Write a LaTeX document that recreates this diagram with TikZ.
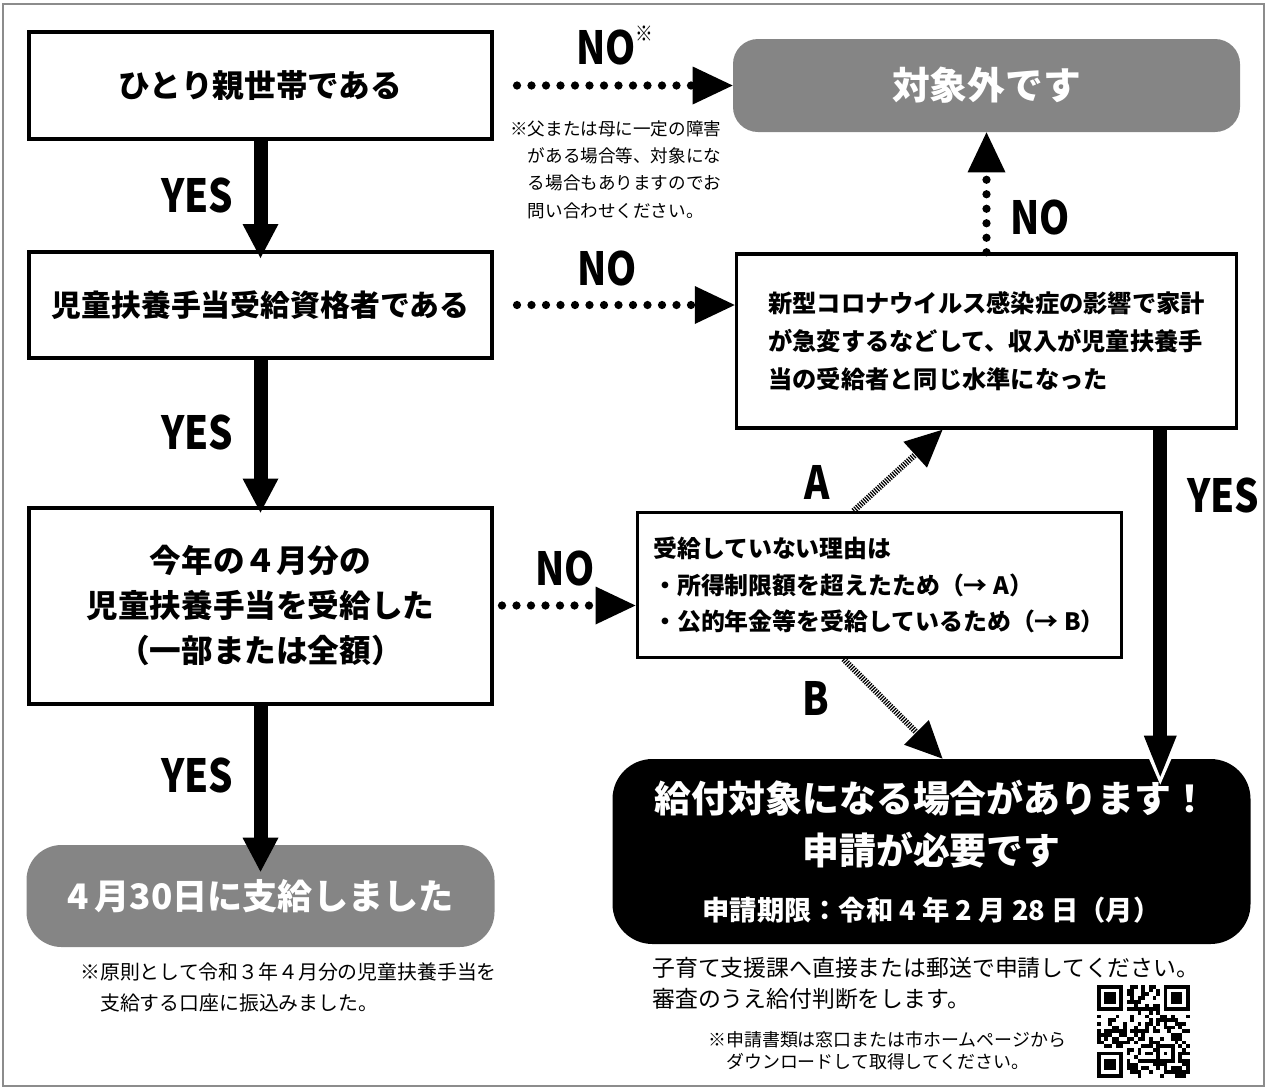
\documentclass[tikz,border=0pt]{standalone}
\usepackage{fontspec}
\setmainfont{Noto Sans CJK JP}
\newfontfamily\ynfont{Noto Sans CJK JP}[FakeStretch=0.84]
\usetikzlibrary{shapes,arrows.meta}
\definecolor{boxgray}{RGB}{133,133,133}

\begin{document}
\begin{tikzpicture}[auto,
  qbox/.style={rectangle, draw=black, line width=0.08cm, fill=white, minimum width=9.26cm, align=center, font=\bfseries\fontsize{18}{25.6}\selectfont},
  yesline/.style={draw, line width=0.28cm, -{Triangle[width=0.72cm, length=0.68cm, line width=0pt]}},
  noline/.style={draw, line width=0.165cm, line cap=round, dash pattern=on 0pt off 0.29cm, -{Triangle[width=0.76cm, length=0.8cm, line width=0pt]}},
  hatchline/.style={draw, line width=0.12cm, dash pattern=on 0.7pt off 0.7pt, -{Triangle[width=0.7cm, length=0.74cm, line width=0pt]}},
  yn/.style={inner sep=0pt, font=\ynfont\bfseries\fontsize{26}{26}\selectfont},
  note/.style={inner sep=0pt, align=left, anchor=north west}]
\useasboundingbox (0,0) rectangle (25.34,-21.76);
\draw [black!45, line width=0.03cm] (0.06,-0.08) rectangle (25.28,-21.72);

% left column
\node [qbox, minimum height=2.14cm] (single) at (5.21,-1.71) {ひとり親世帯である};
\node [qbox, minimum height=2.12cm, below of=single, yshift=-3.39cm, font=\bfseries\fontsize{17}{24}\selectfont] (qual) {児童扶養手当受給資格者である};
\node [qbox, minimum height=3.92cm, below of=qual, yshift=-5.01cm] (april) {今年の４月分の\\児童扶養手当を受給した\\（一部または全額）};
\node [rectangle, rounded corners=0.7cm, fill=boxgray, text=white, minimum width=9.36cm, minimum height=2.04cm, below of=april, yshift=-4.81cm, font=\bfseries\fontsize{20}{24}\selectfont] (paid) {4\,月30日に支給しました};

% right column
\node [rectangle, rounded corners=0.5cm, fill=boxgray, text=white, minimum width=10.14cm, minimum height=1.86cm, right of=single, xshift=13.52cm, font=\bfseries\fontsize{21.5}{26}\selectfont] (outside) {対象外です};
\node [rectangle, draw=black, line width=0.07cm, fill=white, minimum width=10cm, minimum height=3.48cm, below of=outside, yshift=-4.11cm, align=left, font=\bfseries\fontsize{13.8}{21.6}\selectfont] (covid) {新型コロナウイルス感染症の影響で家計\\が急変するなどして、収入が児童扶養手\\当の受給者と同じ水準になった};
\node [rectangle, draw=black, line width=0.06cm, fill=white, minimum width=9.68cm, minimum height=2.9cm, below of=covid, xshift=-2.15cm, yshift=-3.88cm, align=left, font=\bfseries\fontsize{13.6}{21}\selectfont] (reason) {受給していない理由は\\・所得制限額を超えたため（→ A）\\・公的年金等を受給しているため（→ B）};
\node [rectangle, rounded corners=0.8cm, fill=black, text=white, minimum width=12.76cm, minimum height=3.7cm, below of=reason, xshift=1.05cm, yshift=-4.33cm, align=center, font=\bfseries\fontsize{21}{29.6}\selectfont] (result) {給付対象になる場合があります！\\申請が必要です\\[2pt]{\fontsize{15.5}{18}\selectfont 申請期限：令和 4 年 2 月 28 日（月）}};

% YES arrows
\path [yesline, shorten >=-0.16cm] (single) -- node [yn, left=0.4cm] {YES} (qual);
\path [yesline, shorten >=-0.14cm] (qual) -- node [yn, left=0.4cm] {YES} (april);
\path [yesline, shorten >=-0.54cm] (april) -- node [yn, left=0.4cm] {YES} (paid);
\coordinate (yestop) at ([xshift=-1.56cm]covid.south east);
\path [draw=white, line width=0.28cm, -{Triangle[width=0.9cm, length=1.04cm, line width=0pt]}, shorten >=-0.52cm] (yestop) -- (yestop |- result.north);
\path [yesline, -{Triangle[width=0.66cm, length=0.82cm, line width=0pt]}, shorten >=-0.36cm] (yestop) -- node [yn, right=0.4cm, pos=0.2] {YES} (yestop |- result.north);

% NO arrows
\path [noline, shorten <=0.46cm] (single) -- node [yn, above=0.32cm, pos=0.47] {NO\rlap{\raisebox{0.5em}{\fontsize{12}{12}\selectfont ※}}} (outside);
\path [noline, shorten <=0.46cm] (qual.east) -- node [yn, above=0.3cm, pos=0.47] {NO} (qual.east -| covid.west);
\path [noline, shorten <=0.16cm] (april.east) -- node [yn, above=0.3cm] {NO} (april.east -| reason.west);
\path [noline] (covid) -- node [yn, right=0.4cm, pos=0.29] {NO} (outside);

% reasons A / B
\path [hatchline] ([xshift=-0.51cm]reason.north) -- node [yn, left=1.04cm, pos=0.35] {A} ([xshift=-0.88cm]covid.south);
\path [hatchline] ([xshift=-0.71cm]reason.south) -- node [yn, left=1.02cm, pos=0.4] {B} ([xshift=0.22cm]result.north);

% qr code
\begin{scope}[shift={(21.94,-19.70)}, x=0.074cm, y=-0.074cm]
\pgfmathsetseed{2021}
\foreach \i in {0,...,24}{
  \foreach \j in {0,...,24}{
    \pgfmathtruncatemacro{\bit}{rnd<0.5 ? 1 : 0}
    \ifnum\bit=1 \fill (\i,\j) rectangle ++(1,1); \fi
  }
}
\foreach \cx/\cy in {0/0, 18/0, 0/18}{
  \fill [white] (\cx-1,\cy-1) rectangle ++(9,9);
  \fill (\cx,\cy) rectangle ++(7,7);
  \fill [white] (\cx+1,\cy+1) rectangle ++(5,5);
  \fill (\cx+2,\cy+2) rectangle ++(3,3);
}
\fill (16,16) rectangle ++(5,5);
\fill [white] (17,17) rectangle ++(3,3);
\fill (18,18) rectangle ++(1,1);
\end{scope}

% notes
\node [note, font=\fontsize{10}{15.6}\selectfont] (notenine) at (10.20,-2.40) {※父または母に一定の障害\\\hspace*{1em}がある場合等、対象にな\\\hspace*{1em}る場合もありますのでお\\\hspace*{1em}問い合わせください。};
\node [note, font=\fontsize{11.3}{17.6}\selectfont] (notepaid) at (1.60,-19.24) {※原則として令和３年４月分の児童扶養手当を\\\hspace*{1em}支給する口座に振込みました。};
\node [note, font=\fontsize{13}{17.6}\selectfont] (noteapply) at (13.04,-19.14) {子育て支援課へ直接または郵送で申請してください。\\審査のうえ給付判断をします。};
\node [note, font=\fontsize{10.2}{12.5}\selectfont] (noteform) at (14.16,-20.62) {※申請書類は窓口または市ホームページから\\\hspace*{1em}ダウンロードして取得してください。};
\end{tikzpicture}
\end{document}
